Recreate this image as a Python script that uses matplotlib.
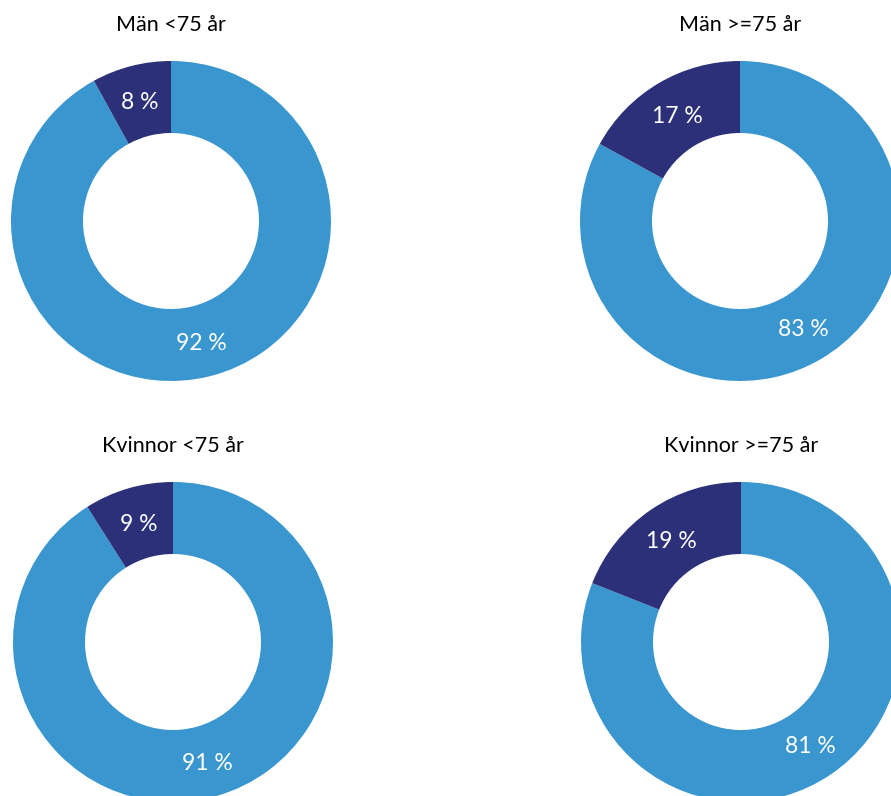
import matplotlib
matplotlib.use("Agg")
import matplotlib.pyplot as plt

plt.rcParams['font.family'] = ['Lato', 'DejaVu Sans']

titles = ["Män <75 år", "Män >=75 år", "Kvinnor <75 år", "Kvinnor >=75 år"]
share_main = [92, 83, 91, 81]
share_other = [8, 17, 9, 19]

colors = ['#3A96CE', '#2B3078']

W, H = 891, 796
# donut centers in pixels (x from left, y from top)
centers = [(171, 221), (740, 221), (173, 642), (741, 642)]
R = 160

fig = plt.figure(figsize=(W / 100, H / 100), dpi=100)

for title, main, other, (cx, cy) in zip(titles, share_main, share_other, centers):
    ax = fig.add_axes([(cx - R) / W, (H - cy - R) / H, 2 * R / W, 2 * R / H])
    wedges, texts = ax.pie([main, other], colors=colors, startangle=90,
                           counterclock=False, radius=1,
                           labels=[f"{main} %", f"{other} %"], labeldistance=0.775,
                           wedgeprops=dict(width=0.45, linewidth=0),
                           textprops=dict(color='white', fontsize=16.5, ha='center',
                                          va='center_baseline'))
    ax.set_xlim(-1, 1)
    ax.set_ylim(-1, 1)
    ax.set_aspect('equal')
    ax.axis('off')
    fig.text(cx / W, 1 - (cy - 196) / H, title, ha='center', va='center', fontsize=15.5, color='#000000')

fig.savefig("out.png", dpi=100)
